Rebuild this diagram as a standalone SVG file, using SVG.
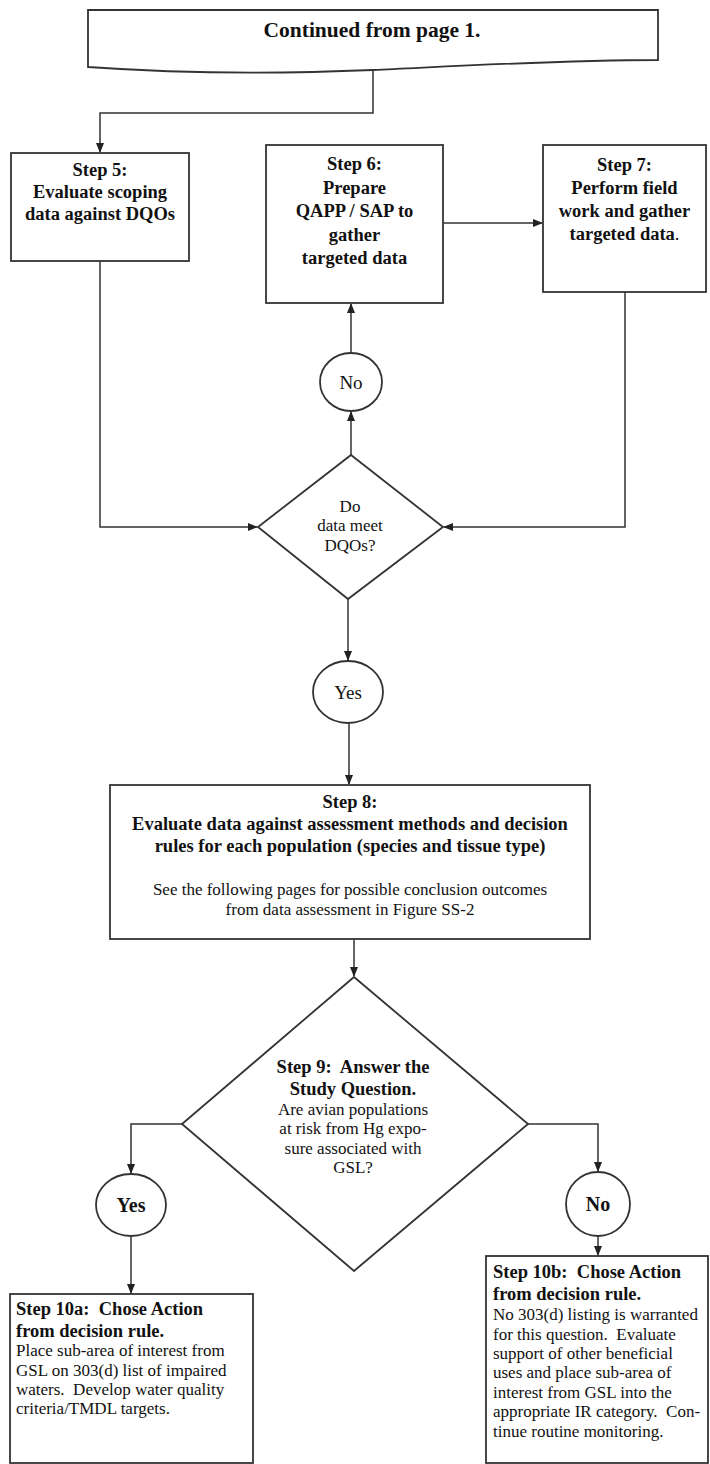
<svg xmlns="http://www.w3.org/2000/svg" width="710" height="1464" viewBox="0 0 710 1464">
<style>
  .box{fill:#fff;stroke:#333;stroke-width:1.8}
  .ln{fill:none;stroke:#333;stroke-width:1.5}
  .t{font-family:'Liberation Serif','DejaVu Serif','Times New Roman',serif;fill:#111;white-space:pre}
  .b{font-weight:bold;font-size:18.5px}
  .r{font-size:17px}
  .c{text-anchor:middle}
</style>
<defs>
  <marker id="ah" markerWidth="10" markerHeight="8" refX="9" refY="4" orient="auto" markerUnits="userSpaceOnUse">
    <path d="M0,0 L10,4 L0,8 Z" fill="#222"/>
  </marker>
</defs>
<rect width="710" height="1464" fill="#fff"/>
<g id="connectors">
  <path class="ln" d="M373,70 V113 H100 V152" marker-end="url(#ah)"/>
  <path class="ln" d="M443,223 H542" marker-end="url(#ah)"/>
  <path class="ln" d="M100,261 V527 H257" marker-end="url(#ah)"/>
  <path class="ln" d="M625,292 V527 H444" marker-end="url(#ah)"/>
  <path class="ln" d="M351,455 V412" marker-end="url(#ah)"/>
  <path class="ln" d="M351,353 V304" marker-end="url(#ah)"/>
  <path class="ln" d="M348,599 V660" marker-end="url(#ah)"/>
  <path class="ln" d="M349,723 V784" marker-end="url(#ah)"/>
  <path class="ln" d="M354,939 V976" marker-end="url(#ah)"/>
  <path class="ln" d="M182,1124 H131 V1173" marker-end="url(#ah)"/>
  <path class="ln" d="M131,1236 V1293" marker-end="url(#ah)"/>
  <path class="ln" d="M528,1124 H598 V1171" marker-end="url(#ah)"/>
  <path class="ln" d="M598,1236 V1255" marker-end="url(#ah)"/>
</g>
<g id="banner">
  <path class="box" d="M88,10 H658 V60 C560,60 460,66 373,70 C300,73 200,75 88,67 Z"/>
  <text class="t c" x="372" y="37" font-size="21.5" font-weight="bold">Continued from page 1.</text>
</g>
<g id="step5">
  <rect class="box" x="11" y="153" width="178" height="108"/>
  <text class="t b c" x="100" y="176">Step 5:</text>
  <text class="t b c" x="100" y="198">Evaluate scoping</text>
  <text class="t b c" x="100" y="220">data against DQOs</text>
</g>
<g id="step6">
  <rect class="box" x="266" y="145" width="177" height="158"/>
  <text class="t b c" x="354.5" y="170">Step 6:</text>
  <text class="t b c" x="354.5" y="194">Prepare</text>
  <text class="t b c" x="354.5" y="217">QAPP / SAP to</text>
  <text class="t b c" x="354.5" y="241">gather</text>
  <text class="t b c" x="354.5" y="264">targeted data</text>
</g>
<g id="step7">
  <rect class="box" x="543" y="145" width="163" height="147"/>
  <text class="t b c" x="624.5" y="171">Step 7:</text>
  <text class="t b c" x="624.5" y="194">Perform field</text>
  <text class="t b c" x="624.5" y="217">work and gather</text>
  <text class="t b c" x="624.5" y="240">targeted data<tspan font-weight="normal">.</tspan></text>
</g>
<g id="decision1">
  <path class="box" d="M351,455 L443,527 L348,599 L258,527 Z"/>
  <text class="t r c" x="350" y="512">Do</text>
  <text class="t r c" x="350" y="531">data meet</text>
  <text class="t r c" x="350" y="551">DQOs?</text>
</g>
<g id="no1">
  <ellipse class="box" cx="351" cy="382" rx="31" ry="29"/>
  <text class="t c" x="351" y="389" font-size="19">No</text>
</g>
<g id="yes1">
  <ellipse class="box" cx="348" cy="692" rx="35" ry="31"/>
  <text class="t c" x="348" y="699" font-size="19">Yes</text>
</g>
<g id="step8">
  <rect class="box" x="110" y="785" width="480" height="154"/>
  <text class="t b c" x="350" y="808">Step 8:</text>
  <text class="t b c" x="350" y="830">Evaluate data against assessment methods and decision</text>
  <text class="t b c" x="350" y="852">rules for each population (species and tissue type)</text>
  <text class="t r c" x="350" y="895">See the following pages for possible conclusion outcomes</text>
  <text class="t r c" x="350" y="915">from data assessment in Figure SS-2</text>
</g>
<g id="step9">
  <path class="box" d="M354,977 L528,1124 L354,1271 L182,1124 Z"/>
  <text class="t b c" x="353" y="1073">Step 9:  Answer the</text>
  <text class="t b c" x="353" y="1095">Study Question.</text>
  <text class="t r c" x="353" y="1115">Are avian populations</text>
  <text class="t r c" x="353" y="1134">at risk from Hg expo-</text>
  <text class="t r c" x="353" y="1154">sure associated with</text>
  <text class="t r c" x="353" y="1173">GSL?</text>
</g>
<g id="yes2">
  <ellipse class="box" cx="131" cy="1205" rx="35" ry="31"/>
  <text class="t c" x="131" y="1212" font-size="20" font-weight="bold">Yes</text>
</g>
<g id="no2">
  <ellipse class="box" cx="598" cy="1204" rx="32" ry="32"/>
  <text class="t c" x="598" y="1211" font-size="20" font-weight="bold">No</text>
</g>
<g id="step10a">
  <rect class="box" x="10" y="1294" width="243" height="169"/>
  <text class="t b" x="16" y="1315">Step 10a:  Chose Action</text>
  <text class="t b" x="16" y="1337">from decision rule.</text>
  <text class="t r" x="16" y="1356">Place sub-area of interest from</text>
  <text class="t r" x="16" y="1376">GSL on 303(d) list of impaired</text>
  <text class="t r" x="16" y="1395">waters.  Develop water quality</text>
  <text class="t r" x="16" y="1414">criteria/TMDL targets.</text>
</g>
<g id="step10b">
  <rect class="box" x="486" y="1256" width="222" height="207"/>
  <text class="t b" x="493" y="1278">Step 10b:  Chose Action</text>
  <text class="t b" x="493" y="1300">from decision rule.</text>
  <text class="t r" x="493" y="1320">No 303(d) listing is warranted</text>
  <text class="t r" x="493" y="1340">for this question.  Evaluate</text>
  <text class="t r" x="493" y="1359">support of other beneficial</text>
  <text class="t r" x="493" y="1378">uses and place sub-area of</text>
  <text class="t r" x="493" y="1398">interest from GSL into the</text>
  <text class="t r" x="493" y="1417">appropriate IR category.  Con-</text>
  <text class="t r" x="493" y="1437">tinue routine monitoring.</text>
</g>
</svg>
